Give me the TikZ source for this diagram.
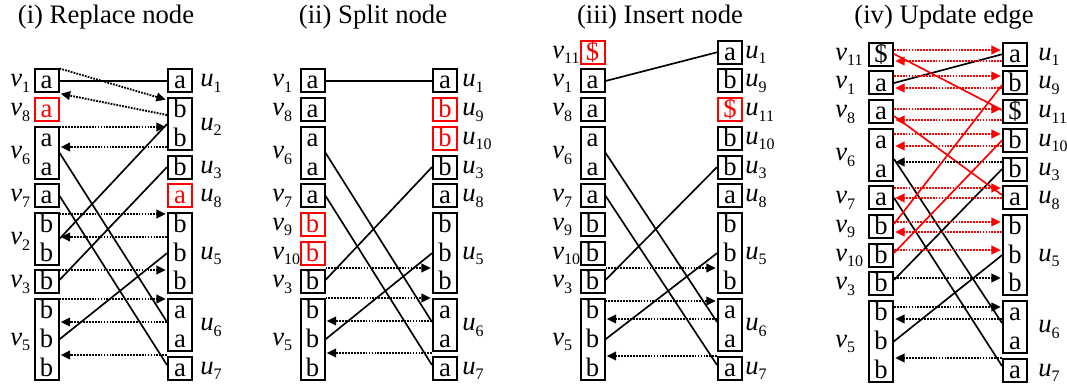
\documentclass[tikz,border=0pt]{standalone}
\usepackage{fontspec}
\setmainfont{Liberation Serif}
\usetikzlibrary{arrows.meta}
\tikzset{
  cellbox/.style={draw, line width=1.5pt, minimum width=18pt, inner sep=0pt},
  letter/.style={inner sep=0pt, font=\fontsize{20}{24}\selectfont},
  lab/.style={inner sep=0pt, font=\fontsize{20}{24}\selectfont, anchor=base west},
  ttl/.style={inner sep=0pt, font=\fontsize{20}{24}\selectfont, anchor=base},
  edge/.style={line width=1.25pt},
  dotarr/.style={line width=1.4pt, dash pattern=on 1.3pt off 0.9pt, shorten >=1pt, -{Triangle[length=7pt,width=6.5pt]}},
}
\newcommand\sublab[2]{\textit{#1}\raisebox{-4pt}{\fontsize{12}{12}\selectfont #2}}
\newcommand\mybox[9]{%
  \pgfmathsetmacro\yc{81+#7+28.7*(#3+#4)/2}%
  \pgfmathsetmacro\hh{((#4)-(#3))*28.7+23}%
  \node[cellbox,draw=#6,minimum height=\hh*0.75pt] (#1) at (#2,\yc) {};%
  \foreach \k in {#3,...,#4} {%
    \pgfmathsetmacro\yl{81+#7+28.7*\k+8}%
    \node[letter,text=#6,anchor=base] (#1l\k) at (#2,\yl) {#5};%
  }%
  \node[lab] (#1t) at (#8,\yc+6) {#9};%
}
\begin{document}
\begin{tikzpicture}[x=0.75pt,y=-0.75pt]
\useasboundingbox (0,0) rectangle (1067,385);
% titles
\node[ttl] (t1) at (106,24) {(i) Replace node};
\node[ttl] (t2) at (373,24) {(ii) Split node};
\node[ttl] (t3) at (660,24) {(iii) Insert node};
\node[ttl] (t4) at (944,24) {(iv) Update edge};

% ---------------- panel i
\mybox{i-v1}{46.5}{0}{0}{a}{black}{0}{10}{\sublab{v}{1}}
\mybox{i-v8}{46.5}{1}{1}{a}{red}{0}{10}{\sublab{v}{8}}
\mybox{i-v6}{46.5}{2}{3}{a}{black}{0}{10}{\sublab{v}{6}}
\mybox{i-v7}{46.5}{4}{4}{a}{black}{0}{10}{\sublab{v}{7}}
\mybox{i-v2}{46.5}{5}{6}{b}{black}{0}{10}{\sublab{v}{2}}
\mybox{i-v3}{46.5}{7}{7}{b}{black}{0}{10}{\sublab{v}{3}}
\mybox{i-v5}{46.5}{8}{10}{b}{black}{0}{10}{\sublab{v}{5}}
\mybox{i-u1}{180}{0}{0}{a}{black}{0}{200}{\sublab{u}{1}}
\mybox{i-u2}{180}{1}{2}{b}{black}{0}{200}{\sublab{u}{2}}
\mybox{i-u3}{180}{3}{3}{b}{black}{0}{200}{\sublab{u}{3}}
\mybox{i-u8}{180}{4}{4}{a}{red}{0}{200}{\sublab{u}{8}}
\mybox{i-u5}{180}{5}{7}{b}{black}{0}{200}{\sublab{u}{5}}
\mybox{i-u6}{180}{8}{9}{a}{black}{0}{200}{\sublab{u}{6}}
\mybox{i-u7}{180}{10}{10}{a}{black}{0}{200}{\sublab{u}{7}}

\draw[edge] (i-v1.east) -- (i-u1.west);
\draw[edge] (i-v6.east) -- (i-u6.west |- 0,322);
\draw[edge] (i-v7.east) -- (i-u7.west |- 0,365);
\draw[edge] (i-u2.west) -- (i-v2.east);
\draw[edge] (i-u3.west) -- (i-v3.east |- 0,280);
\draw[edge] (i-u5.west) -- (i-v5.east);

\draw[dotarr] (i-v1.north east) -- (i-u2.west |- 0,100);
\draw[dotarr] (i-u2.west |- 0,115) -- (i-v1.south east);
\draw[dotarr] (i-v6.east |- 0,127) -- (i-u2.west |- 0,127);
\draw[dotarr] (i-u2.west |- 0,147) -- (i-v6.east |- 0,147);
\draw[dotarr] (i-v2.east |- 0,214) -- (i-u5.west |- 0,214);
\draw[dotarr] (i-u5.west |- 0,237) -- (i-v2.east |- 0,237);
\draw[dotarr] (i-v3.east |- 0,270) -- (i-u5.west |- 0,270);
\draw[dotarr] (i-v5.east |- 0,299) -- (i-u6.west |- 0,299);
\draw[dotarr] (i-u6.west |- 0,322) -- (i-v5.east |- 0,322);
\draw[dotarr] (i-u7.west |- 0,355) -- (i-v5.east |- 0,355);

% ---------------- panel ii
\mybox{ii-v1}{312.5}{0}{0}{a}{black}{0}{272}{\sublab{v}{1}}
\mybox{ii-v8}{312.5}{1}{1}{a}{black}{0}{272}{\sublab{v}{8}}
\mybox{ii-v6}{312.5}{2}{3}{a}{black}{0}{272}{\sublab{v}{6}}
\mybox{ii-v7}{312.5}{4}{4}{a}{black}{0}{272}{\sublab{v}{7}}
\mybox{ii-v9}{312.5}{5}{5}{b}{red}{0}{272}{\sublab{v}{9}}
\mybox{ii-v10}{312.5}{6}{6}{b}{red}{0}{272}{\sublab{v}{10}}
\mybox{ii-v3}{312.5}{7}{7}{b}{black}{0}{272}{\sublab{v}{3}}
\mybox{ii-v5}{312.5}{8}{10}{b}{black}{0}{272}{\sublab{v}{5}}
\mybox{ii-u1}{445}{0}{0}{a}{black}{0}{462}{\sublab{u}{1}}
\mybox{ii-u9}{445}{1}{1}{b}{red}{0}{462}{\sublab{u}{9}}
\mybox{ii-u10}{445}{2}{2}{b}{red}{0}{462}{\sublab{u}{10}}
\mybox{ii-u3}{445}{3}{3}{b}{black}{0}{462}{\sublab{u}{3}}
\mybox{ii-u8}{445}{4}{4}{a}{black}{0}{462}{\sublab{u}{8}}
\mybox{ii-u5}{445}{5}{7}{b}{black}{0}{462}{\sublab{u}{5}}
\mybox{ii-u6}{445}{8}{9}{a}{black}{0}{462}{\sublab{u}{6}}
\mybox{ii-u7}{445}{10}{10}{a}{black}{0}{462}{\sublab{u}{7}}

\draw[edge] (ii-v1.east) -- (ii-u1.west);
\draw[edge] (ii-v6.east) -- (ii-u6.west |- 0,322);
\draw[edge] (ii-v7.east) -- (ii-u7.west |- 0,365);
\draw[edge] (ii-u3.west) -- (ii-v3.east |- 0,280);
\draw[edge] (ii-u5.west) -- (ii-v5.east);

\draw[dotarr] (ii-v3.east |- 0,268) -- (ii-u5.west |- 0,268);
\draw[dotarr] (ii-v5.east |- 0,298) -- (ii-u6.west |- 0,298);
\draw[dotarr] (ii-u6.west |- 0,321) -- (ii-v5.east |- 0,321);
\draw[dotarr] (ii-u7.west |- 0,353) -- (ii-v5.east |- 0,353);

% ---------------- panel iii
\mybox{iii-v11}{592.5}{-1}{-1}{\$}{red}{0}{552}{\sublab{v}{11}}
\mybox{iii-v1}{592.5}{0}{0}{a}{black}{0}{552}{\sublab{v}{1}}
\mybox{iii-v8}{592.5}{1}{1}{a}{black}{0}{552}{\sublab{v}{8}}
\mybox{iii-v6}{592.5}{2}{3}{a}{black}{0}{552}{\sublab{v}{6}}
\mybox{iii-v7}{592.5}{4}{4}{a}{black}{0}{552}{\sublab{v}{7}}
\mybox{iii-v9}{592.5}{5}{5}{b}{black}{0}{552}{\sublab{v}{9}}
\mybox{iii-v10}{592.5}{6}{6}{b}{black}{0}{552}{\sublab{v}{10}}
\mybox{iii-v3}{592.5}{7}{7}{b}{black}{0}{552}{\sublab{v}{3}}
\mybox{iii-v5}{592.5}{8}{10}{b}{black}{0}{552}{\sublab{v}{5}}
\mybox{iii-u1}{730}{-1}{-1}{a}{black}{0}{745}{\sublab{u}{1}}
\mybox{iii-u9}{730}{0}{0}{b}{black}{0}{745}{\sublab{u}{9}}
\mybox{iii-u11}{730}{1}{1}{\$}{red}{0}{745}{\sublab{u}{11}}
\mybox{iii-u10}{730}{2}{2}{b}{black}{0}{745}{\sublab{u}{10}}
\mybox{iii-u3}{730}{3}{3}{b}{black}{0}{745}{\sublab{u}{3}}
\mybox{iii-u8}{730}{4}{4}{a}{black}{0}{745}{\sublab{u}{8}}
\mybox{iii-u5}{730}{5}{7}{b}{black}{0}{745}{\sublab{u}{5}}
\mybox{iii-u6}{730}{8}{9}{a}{black}{0}{745}{\sublab{u}{6}}
\mybox{iii-u7}{730}{10}{10}{a}{black}{0}{745}{\sublab{u}{7}}

\draw[edge] (iii-v1.east) -- (iii-u1.west);
\draw[edge] (iii-v6.east) -- (iii-u6.west |- 0,322);
\draw[edge] (iii-v7.east) -- (iii-u7.west |- 0,365);
\draw[edge] (iii-u3.west) -- (iii-v3.east |- 0,280);
\draw[edge] (iii-u5.west) -- (iii-v5.east);

\draw[dotarr] (iii-v3.east |- 0,268) -- (iii-u5.west |- 0,268);
\draw[dotarr] (iii-v5.east |- 0,301) -- (iii-u6.west |- 0,301);
\draw[dotarr] (iii-u6.west |- 0,319) -- (iii-v5.east |- 0,319);
\draw[dotarr] (iii-u7.west |- 0,356) -- (iii-v5.east |- 0,356);

% ---------------- panel iv
\mybox{iv-v11}{881}{-1}{-1}{\$}{black}{2}{835}{\sublab{v}{11}}
\mybox{iv-v1}{881}{0}{0}{a}{black}{2}{835}{\sublab{v}{1}}
\mybox{iv-v8}{881}{1}{1}{a}{black}{2}{835}{\sublab{v}{8}}
\mybox{iv-v6}{881}{2}{3}{a}{black}{2}{835}{\sublab{v}{6}}
\mybox{iv-v7}{881}{4}{4}{a}{black}{2}{835}{\sublab{v}{7}}
\mybox{iv-v9}{881}{5}{5}{b}{black}{2}{835}{\sublab{v}{9}}
\mybox{iv-v10}{881}{6}{6}{b}{black}{2}{835}{\sublab{v}{10}}
\mybox{iv-v3}{881}{7}{7}{b}{black}{2}{835}{\sublab{v}{3}}
\mybox{iv-v5}{881}{8}{10}{b}{black}{2}{835}{\sublab{v}{5}}
\mybox{iv-u1}{1015}{-1}{-1}{a}{black}{2}{1038}{\sublab{u}{1}}
\mybox{iv-u9}{1015}{0}{0}{b}{black}{2}{1038}{\sublab{u}{9}}
\mybox{iv-u11}{1015}{1}{1}{\$}{black}{2}{1038}{\sublab{u}{11}}
\mybox{iv-u10}{1015}{2}{2}{b}{black}{2}{1038}{\sublab{u}{10}}
\mybox{iv-u3}{1015}{3}{3}{b}{black}{2}{1038}{\sublab{u}{3}}
\mybox{iv-u8}{1015}{4}{4}{a}{black}{2}{1038}{\sublab{u}{8}}
\mybox{iv-u5}{1015}{5}{7}{b}{black}{2}{1038}{\sublab{u}{5}}
\mybox{iv-u6}{1015}{8}{9}{a}{black}{2}{1038}{\sublab{u}{6}}
\mybox{iv-u7}{1015}{10}{10}{a}{black}{2}{1038}{\sublab{u}{7}}

\draw[edge] (iv-v1.east) -- (iv-u1.west);
\draw[edge] (iv-v6.east |- 0,159) -- (iv-u6.west |- 0,323);
\draw[edge] (iv-v7.east) -- (iv-u7.west |- 0,366);
\draw[edge] (iv-u3.west) -- (iv-v3.east |- 0,280);
\draw[edge] (iv-u5.west) -- (iv-v5.east);
\draw[edge,red] (iv-v11.east |- 0,54) -- (iv-u11.west |- 0,110);
\draw[edge,red] (iv-v8.east |- 0,116) -- (iv-u8.west |- 0,195);
\draw[edge,red] (iv-u9.west |- 0,85) -- (iv-v9.east |- 0,224);
\draw[edge,red] (iv-u10.west) -- (iv-v10.east |- 0,253);

\draw[dotarr,red] (iv-v11.east |- 0,50) -- (iv-u1.west |- 0,50);
\draw[dotarr,red] (iv-u1.west |- 0,61) -- (iv-v11.east |- 0,61);
\draw[dotarr,red] (iv-v1.east |- 0,76) -- (iv-u9.west |- 0,76);
\draw[dotarr,red] (iv-u9.west |- 0,88) -- (iv-v1.east |- 0,88);
\draw[dotarr,red] (iv-v8.east |- 0,109) -- (iv-u11.west |- 0,109);
\draw[dotarr,red] (iv-u11.west |- 0,120) -- (iv-v8.east |- 0,120);
\draw[dotarr,red] (iv-v6.east |- 0,134) -- (iv-u10.west |- 0,134);
\draw[dotarr,red] (iv-u10.west |- 0,146) -- (iv-v6.east |- 0,146);
\draw[dotarr] (iv-u3.west |- 0,162) -- (iv-v6.east |- 0,162);
\draw[dotarr,red] (iv-v7.east |- 0,188) -- (iv-u8.west |- 0,188);
\draw[dotarr,red] (iv-u8.west |- 0,198) -- (iv-v7.east |- 0,198);
\draw[dotarr,red] (iv-v9.east |- 0,222) -- (iv-u5.west |- 0,222);
\draw[dotarr,red] (iv-u5.west |- 0,232) -- (iv-v9.east |- 0,232);
\draw[dotarr,red] (iv-v10.east |- 0,250) -- (iv-u5.west |- 0,250);
\draw[dotarr] (iv-v3.east |- 0,278) -- (iv-u5.west |- 0,278);
\draw[dotarr] (iv-v5.east |- 0,307) -- (iv-u6.west |- 0,307);
\draw[dotarr] (iv-u6.west |- 0,319) -- (iv-v5.east |- 0,319);
\draw[dotarr] (iv-u7.west |- 0,358) -- (iv-v5.east |- 0,358);
\end{tikzpicture}
\end{document}
